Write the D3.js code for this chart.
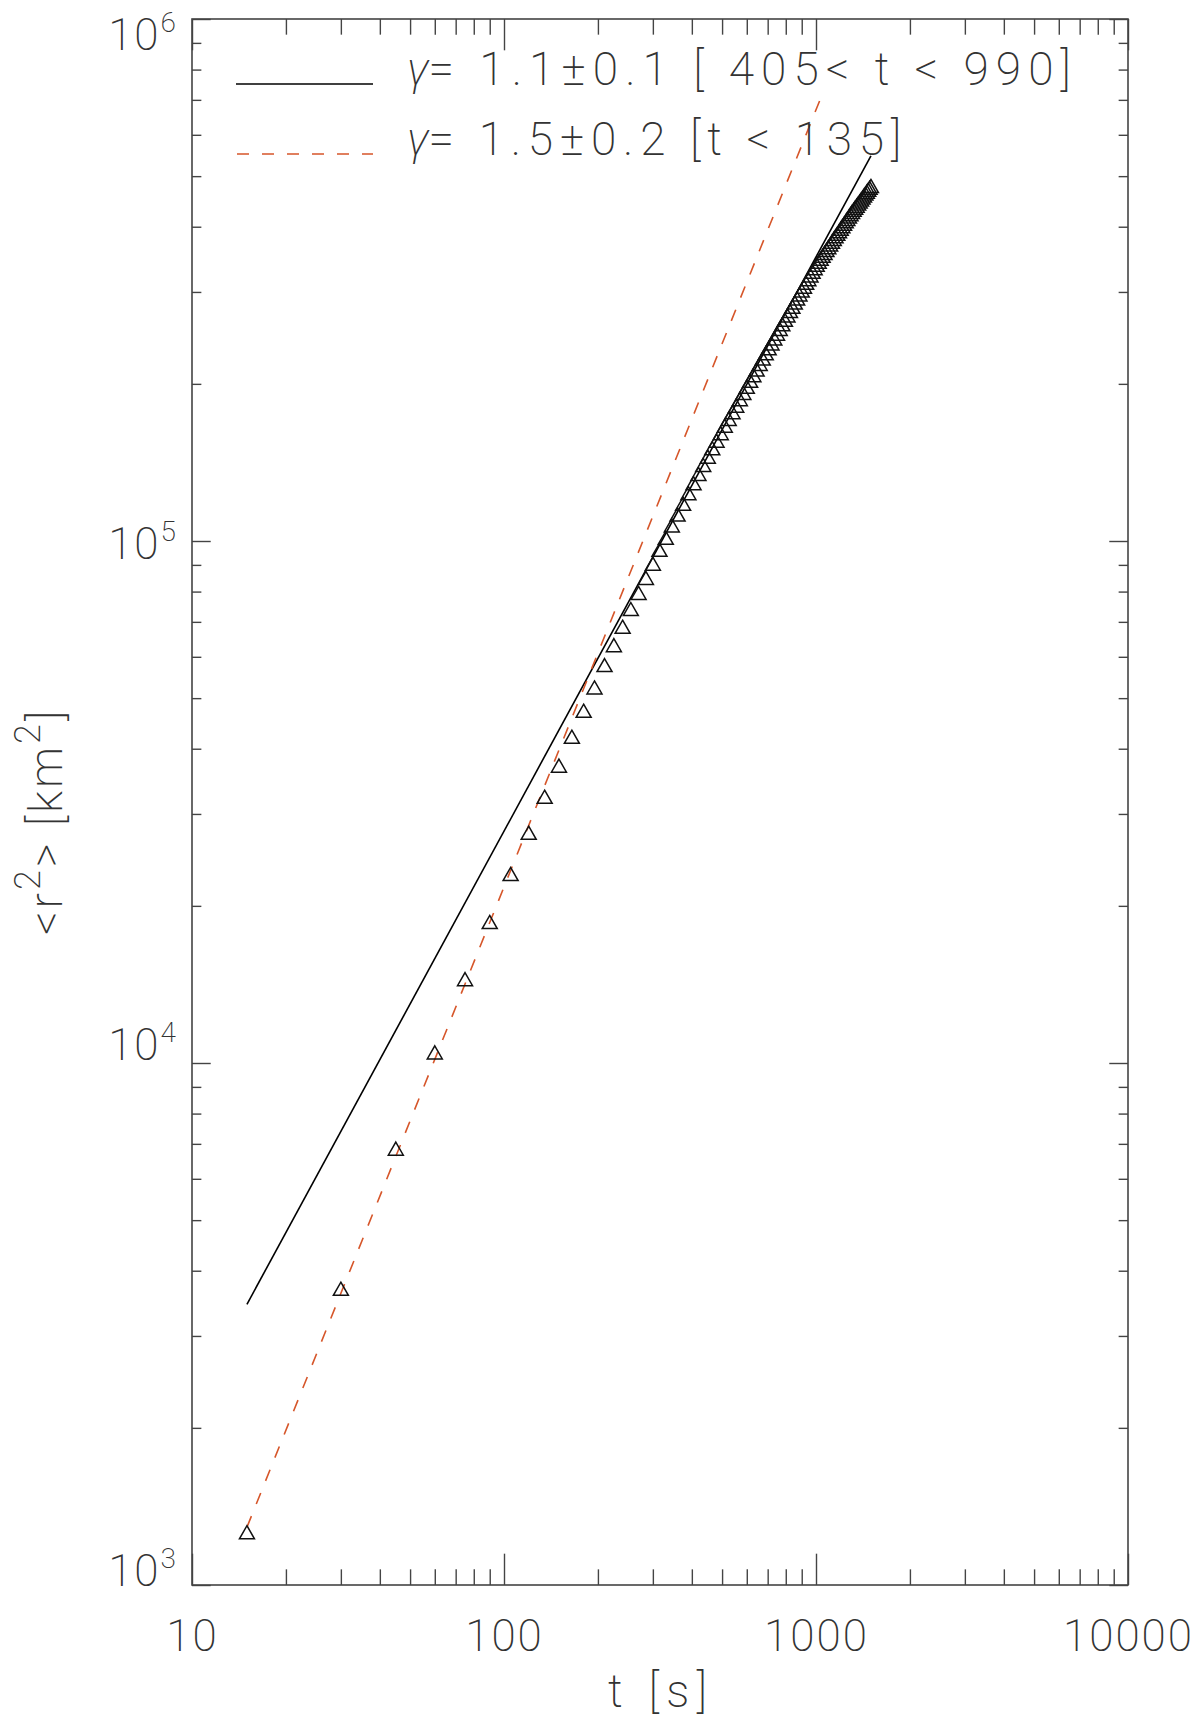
<!DOCTYPE html>
<html><head><meta charset="utf-8">
<script src="https://cdn.jsdelivr.net/npm/d3@7"></script>
<style>
body{margin:0;background:#fff}
text{font-family:Roboto,"DejaVu Sans",sans-serif;font-weight:200;fill:#333}
</style></head><body>
<svg id="c" width="1200" height="1722"></svg>
<script>
// ---- data ----
const tValues = [15,30,45,60,75,90,105,120,135,150,165,180,195,210,225,240,255,270,285,300,315,330,345,360,375,390,405,420,435,450,465,480,495,510,525,540,555,570,585,600,615,630,645,660,675,690,705,720,735,750,765,780,795,810,825,840,855,870,885,900,915,930,945,960,975,990,1005,1020,1035,1050,1065,1080,1095,1110,1125,1140,1155,1170,1185,1200,1215,1230,1245,1260,1275,1290,1305,1320,1335,1350,1365,1380,1395,1410,1425,1440,1455,1470,1485,1500];
const r2Values = [1250,3660,6790,10380,14340,18450,22800,27350,32060,36780,41770,46850,51920,57310,62570,67850,73370,78770,84160,89650,95280,100490,106100,111360,116730,122320,127850,133150,138560,143730,149160,154240,159380,164800,169730,174880,
180000,185200,190400,195600,200800,205900,211100,216300,221500,226700,231800,236900,242100,247300,252500,257700,262800,268000,273200,278400,283600,288700,293900,299000,304200,309400,314500,319700,324800,330000,335000,339500,344000,348600,353000,357600,362100,366400,371000,375500,379900,384200,388500,392900,397200,401500,405900,410200,414500,418800,423000,427000,431000,434900,438900,442900,446900,450700,454700,458700,462600,466500,470400,474200];
const solidFitT = [15, 1500];
const solidFitR2 = [3450, 546800];
const dashedFitT = [15, 1030];
const dashedFitR2 = [1290, 700000];
const xTickValues = [10, 100, 1000, 10000];
const xTickLabels = ["10", "100", "1000", "10000"];
const yTickValues = [1e3, 1e4, 1e5, 1e6];
const yTickExponents = ["3", "4", "5", "6"];
const legendSymbol = "\u03b3";
const legendLabels = ["=  1.1\u00b10.1 [ 405< t < 990]", "=  1.5\u00b10.2 [t < 135]"];
const xTitle = "t [s]";

// ---- style / layout ----
const L = 192, R = 1128, T = 19, B = 1585;
const axisColor = "#444";
const dashColor = "#d6562a";
const yLabelShift = [1, -3, 18, 31];

const svg = d3.select("#c");
const x = d3.scaleLog().domain([10, 10000]).range([L, R]);
const y = d3.scaleLog().domain([1e3, 1e6]).range([B, T]);

const isMajor = v => Math.abs(Math.log10(v) - Math.round(Math.log10(v))) < 1e-9;
const xMinor = x.ticks().filter(v => !isMajor(v));
const yMinor = y.ticks().filter(v => !isMajor(v));

const xMajLen = 0.02 * (B - T), yMajLen = 0.02 * (R - L);

function styleAxis(g) {
  g.select(".domain").remove();
  g.selectAll(".tick line").attr("stroke", axisColor).attr("stroke-width", 1.4);
}

// bottom
svg.append("g").attr("transform", `translate(0,${B})`)
  .call(d3.axisBottom(x).tickValues(xTickValues).tickSize(-xMajLen).tickPadding(35)
    .tickFormat((d, i) => xTickLabels[i]))
  .call(styleAxis)
  .call(g => g.selectAll("text").attr("font-size", 44).attr("fill", "#333")
    .attr("font-family", "Roboto, 'DejaVu Sans', sans-serif").attr("letter-spacing", 2));
svg.append("g").attr("transform", `translate(0,${B})`)
  .call(d3.axisBottom(x).tickValues(xMinor).tickSize(-xMajLen / 2).tickFormat(""))
  .call(styleAxis);
// top
svg.append("g").attr("transform", `translate(0,${T})`)
  .call(d3.axisTop(x).tickValues(xTickValues).tickSize(-xMajLen).tickFormat(""))
  .call(styleAxis);
svg.append("g").attr("transform", `translate(0,${T})`)
  .call(d3.axisTop(x).tickValues(xMinor).tickSize(-xMajLen / 2).tickFormat(""))
  .call(styleAxis);
// left
svg.append("g").attr("transform", `translate(${L},0)`)
  .call(d3.axisLeft(y).tickValues(yTickValues).tickSize(-yMajLen).tickFormat(""))
  .call(styleAxis);
svg.append("g").attr("transform", `translate(${L},0)`)
  .call(d3.axisLeft(y).tickValues(yMinor).tickSize(-yMajLen / 2).tickFormat(""))
  .call(styleAxis);
// right
svg.append("g").attr("transform", `translate(${R},0)`)
  .call(d3.axisRight(y).tickValues(yTickValues).tickSize(-yMajLen).tickFormat(""))
  .call(styleAxis);
svg.append("g").attr("transform", `translate(${R},0)`)
  .call(d3.axisRight(y).tickValues(yMinor).tickSize(-yMajLen / 2).tickFormat(""))
  .call(styleAxis);

// box
svg.append("rect").attr("x", L).attr("y", T).attr("width", R - L).attr("height", B - T)
  .attr("fill", "none").attr("stroke", axisColor).attr("stroke-width", 1.6);

// y tick labels
yTickValues.forEach((v, i) => {
  const t = svg.append("text").attr("x", 176).attr("y", y(v) + yLabelShift[i])
    .attr("text-anchor", "end").attr("font-size", 44);
  t.append("tspan").text("10").attr("letter-spacing", 2);
  t.append("tspan").text(yTickExponents[i]).attr("font-size", 28).attr("dy", -18);
});

// fit lines
const line = d3.line().x(d => x(d[0])).y(d => y(d[1]));
svg.append("path").datum(solidFitT.map((t, i) => [t, solidFitR2[i]]))
  .attr("d", line).attr("fill", "none").attr("stroke", "#000").attr("stroke-width", 1.6);
svg.append("path").datum(dashedFitT.map((t, i) => [t, dashedFitR2[i]]))
  .attr("d", line).attr("fill", "none").attr("stroke", dashColor).attr("stroke-width", 1.6)
  .attr("stroke-dasharray", "12,13");

// triangles
svg.append("g").selectAll("path").data(tValues.map((t, i) => [t, r2Values[i]])).join("path")
  .attr("transform", d => `translate(${x(d[0])},${y(d[1])})`)
  .attr("d", "M0,-8.7L7.5,4.4L-7.5,4.4Z")
  .attr("fill", "none").attr("stroke", "#111").attr("stroke-width", 1.5);

// legend
svg.append("line").attr("x1", 236).attr("x2", 373).attr("y1", 84).attr("y2", 84)
  .attr("stroke", "#000").attr("stroke-width", 1.6);
svg.append("line").attr("x1", 237).attr("x2", 373).attr("y1", 154).attr("y2", 154)
  .attr("stroke", dashColor).attr("stroke-width", 1.6).attr("stroke-dasharray", "12,13");

function fitWidth(sel, target) {
  const n = sel.text().length;
  const w = sel.node().getBBox().width;
  sel.attr("letter-spacing", (target - w) / Math.max(1, n - 1));
}
function legendText(yb, label, width) {
  const g = svg.append("text").attr("x", 407).attr("y", yb).attr("font-size", 46);
  g.append("tspan").text(legendSymbol).attr("font-style", "italic");
  const rest = g.append("tspan").text(label);
  const w0 = g.node().getBBox().width;
  const n = label.length;
  rest.attr("letter-spacing", (width - w0) / Math.max(1, n - 1));
}
legendText(85, legendLabels[0], 671);
legendText(155, legendLabels[1], 501);

// x title
const xt = svg.append("text").attr("x", 608).attr("y", 1707).attr("font-size", 46).text(xTitle);
fitWidth(xt, 99);

// y title
const yt = svg.append("text").attr("transform", "translate(62,935) rotate(-90)")
  .attr("font-size", 46).attr("letter-spacing", 3);
yt.append("tspan").text("<r");
yt.append("tspan").text("2").attr("font-size", 36).attr("dy", -22);
yt.append("tspan").text("> [km").attr("dy", 22);
yt.append("tspan").text("2").attr("font-size", 36).attr("dy", -22);
yt.append("tspan").text("]").attr("dy", 22);
</script></body></html>
